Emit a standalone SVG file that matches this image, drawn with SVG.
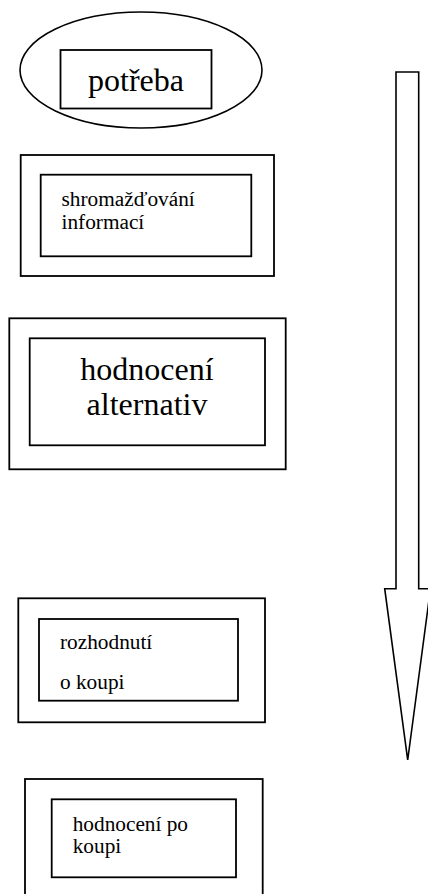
<svg xmlns="http://www.w3.org/2000/svg" width="428" height="894" viewBox="0 0 428 894">
  <style>
    .frame { fill: none; stroke: #000; stroke-width: 1.8; }
    .outline { fill: none; stroke: #000; stroke-width: 1.6; }
    .big { font-size: 32px; }
    .small { font-size: 21.3px; }
  </style>
  <defs>
    <clipPath id="clip-decision">
      <rect x="39" y="619" width="199" height="81.5"/>
    </clipPath>
  </defs>
  <rect width="428" height="894" fill="#fff"/>

  <g font-family="Liberation Serif, Times New Roman, serif" fill="#000">
    <g id="need">
      <ellipse class="outline" cx="141" cy="70" rx="121" ry="58"/>
      <rect class="frame" x="60.5" y="50" width="151" height="58.5"/>
      <text class="big" x="136" y="91" text-anchor="middle">potřeba</text>
    </g>

    <g id="information-search">
      <rect class="frame" x="20.7" y="155" width="253.3" height="121"/>
      <rect class="frame" x="40.7" y="174.7" width="210.6" height="81.6"/>
      <text class="small" x="61.5" y="205.7">shromažďování</text>
      <text class="small" x="61.5" y="229.3">informací</text>
    </g>

    <g id="evaluation-of-alternatives">
      <rect class="frame" x="9.3" y="318.3" width="276.4" height="151"/>
      <rect class="frame" x="29.7" y="338.3" width="235.3" height="107"/>
      <text class="big" x="147" y="380" text-anchor="middle">hodnocení</text>
      <text class="big" x="147" y="415.3" text-anchor="middle">alternativ</text>
    </g>

    <g id="purchase-decision">
      <rect class="frame" x="18.3" y="598.3" width="246.7" height="124"/>
      <rect class="frame" x="39" y="619" width="199" height="81.7"/>
      <g clip-path="url(#clip-decision)">
        <text class="small" x="60" y="649">rozhodnutí</text>
        <text class="small" x="60" y="689">o koupi</text>
      </g>
    </g>

    <g id="post-purchase-evaluation">
      <rect class="frame" x="25" y="779" width="237.7" height="130"/>
      <rect class="frame" x="51.7" y="799.3" width="184.3" height="78"/>
      <text class="small" x="72.7" y="830.7">hodnocení po</text>
      <text class="small" x="72.7" y="853.3">koupi</text>
    </g>
  </g>

  <g id="connectors">
    <path class="outline" d="M396 72 H418.7 V588.7 H430.5 L407.7 760 L384.7 588.7 H396 Z"/>
  </g>
</svg>
